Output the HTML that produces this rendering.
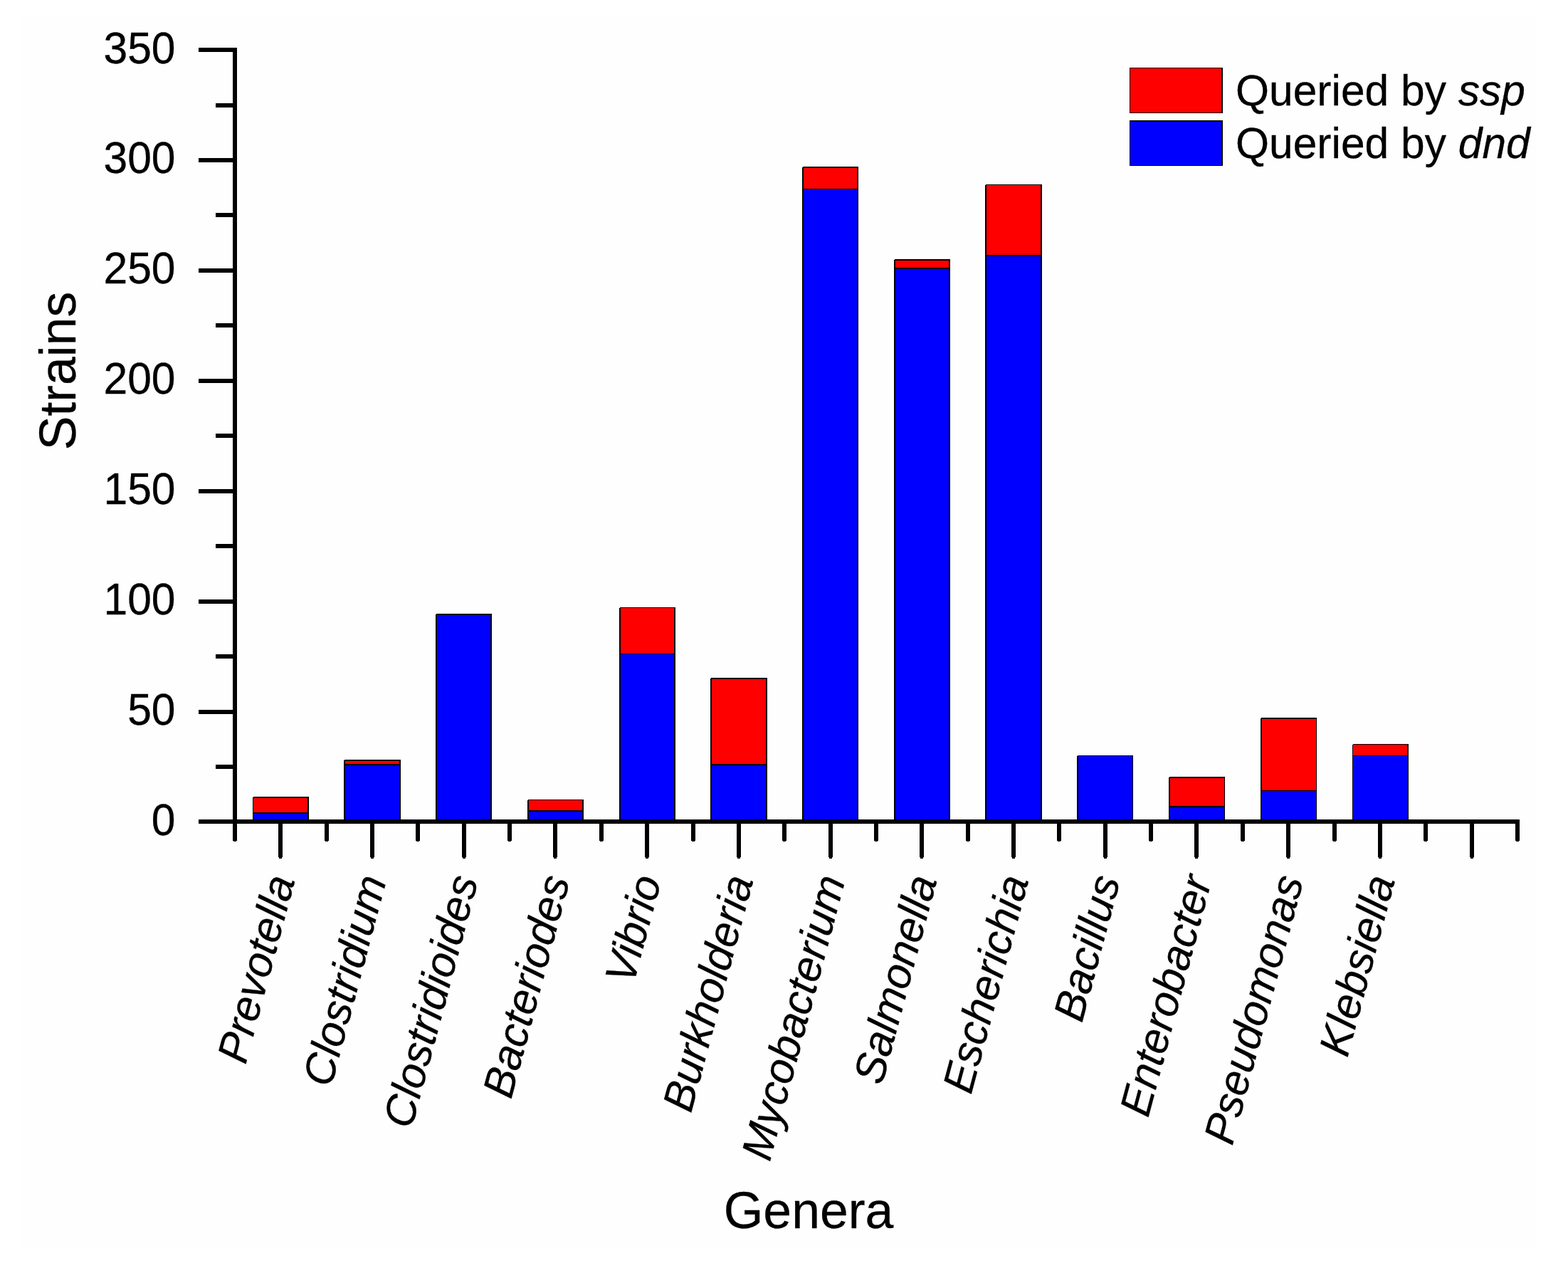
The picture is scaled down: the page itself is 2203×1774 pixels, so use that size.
<!DOCTYPE html>
<html lang="en"><head><meta charset="utf-8"><title>Strains per genus queried by ssp and dnd</title>
<style>
html,body{margin:0;padding:0;background:#fff;}
body{width:2203px;height:1774px;overflow:hidden;}
svg{display:block;}
text{font-family:"Liberation Sans",sans-serif;fill:#000;stroke:#000;stroke-width:0.3px;stroke-linejoin:round;}
.tk{font-size:60.5px;}
.xl{font-size:60.6px;font-style:italic;}
.ti{font-size:71.5px;}
.lg{font-size:60.5px;}
.it{font-style:italic;}
.k{fill:#000;}.r{fill:#f00;}.u{fill:#00f;}
</style></head><body>
<svg width="2203" height="1774" viewBox="0 0 2203 1774">
<rect width="2203" height="1774" fill="#fff"/>
<rect x="28" y="24" width="2131" height="1728" fill="#fefefe"/>
<g id="bars">
<g>
<path class="k" d="M356 1119 H434 V1151 H355 V1120 H356 Z"/>
<rect class="r" x="356" y="1121" width="76" height="20"/>
<rect class="u" x="356" y="1143" width="76" height="8"/>
</g>
<g>
<path class="k" d="M484 1067 H563 V1151 H483 V1068 H484 Z"/>
<rect class="r" x="485" y="1069" width="76" height="4"/>
<rect class="u" x="485" y="1075" width="76" height="76"/>
</g>
<g>
<path class="k" d="M613 862 H691 V1151 H612 V863 H613 Z"/>
<rect class="u" x="614" y="864" width="75" height="287"/>
</g>
<g>
<path class="k" d="M742 1123 H820 V1151 H741 V1124 H742 Z"/>
<rect class="r" x="743" y="1124" width="75" height="14"/>
<rect class="u" x="743" y="1140" width="75" height="11"/>
</g>
<g>
<path class="k" d="M871 853 H949 V1151 H870 V854 H871 Z"/>
<rect class="r" x="872" y="854" width="75" height="64"/>
<rect class="u" x="872" y="919" width="75" height="232"/>
</g>
<g>
<path class="k" d="M999 952 H1078 V1151 H998 V953 H999 Z"/>
<rect class="r" x="1000" y="954" width="76" height="119"/>
<rect class="u" x="1000" y="1075" width="76" height="76"/>
</g>
<g>
<path class="k" d="M1128 234 H1206 V1151 H1127 V235 H1128 Z"/>
<rect class="r" x="1129" y="236" width="75" height="29"/>
<rect class="u" x="1129" y="266" width="75" height="885"/>
</g>
<g>
<path class="k" d="M1257 364 H1335 V1151 H1256 V365 H1257 Z"/>
<rect class="r" x="1258" y="366" width="75" height="10"/>
<rect class="u" x="1258" y="378" width="75" height="773"/>
</g>
<g>
<path class="k" d="M1385 259 H1464 V1151 H1384 V260 H1385 Z"/>
<rect class="r" x="1386" y="260" width="76" height="98"/>
<rect class="u" x="1386" y="360" width="76" height="791"/>
</g>
<g>
<path class="k" d="M1514 1061 H1592 V1151 H1513 V1062 H1514 Z"/>
<rect class="u" x="1515" y="1062" width="76" height="89"/>
</g>
<g>
<path class="k" d="M1643 1091 H1721 V1151 H1642 V1092 H1643 Z"/>
<rect class="r" x="1644" y="1093" width="76" height="39"/>
<rect class="u" x="1644" y="1134" width="76" height="17"/>
</g>
<g>
<path class="k" d="M1772 1008 H1850 V1151 H1771 V1009 H1772 Z"/>
<rect class="r" x="1773" y="1010" width="76" height="100"/>
<rect class="u" x="1773" y="1111" width="76" height="40"/>
</g>
<g>
<path class="k" d="M1901 1045 H1979 V1151 H1900 V1046 H1901 Z"/>
<rect class="r" x="1901" y="1046" width="76" height="15"/>
<rect class="u" x="1901" y="1062" width="76" height="89"/>
</g>
</g>
<g id="axes" class="k">
<rect class="k" x="279" y="1151" width="1856" height="6"/>
<rect class="k" x="327" y="67" width="6" height="1090"/>
<path d="M279 997 H327 V1003 H279 Z M279 842 H327 V848 H279 Z M279 687 H327 V693 H279 Z M279 532 H327 V538 H279 Z M279 377 H327 V383 H279 Z M279 222 H327 V228 H279 Z M279 67 H327 V73 H279 Z M303 1074 H327 V1080 H303 Z M303 919 H327 V925 H303 Z M303 764 H327 V770 H303 Z M303 609 H327 V615 H303 Z M303 454 H327 V460 H303 Z M303 299 H327 V305 H303 Z M303 145 H327 V151 H303 Z"/>
<path d="M327 1157 H333 V1181 H332 V1182 H328 V1181 H327 Z M391 1157 H397 V1204 H396 V1206 H392 V1204 H391 Z M456 1157 H462 V1181 H461 V1182 H457 V1181 H456 Z M520 1157 H526 V1204 H525 V1206 H521 V1204 H520 Z M584 1157 H590 V1181 H589 V1182 H585 V1181 H584 Z M649 1157 H655 V1204 H654 V1206 H650 V1204 H649 Z M713 1157 H719 V1181 H718 V1182 H714 V1181 H713 Z M777 1157 H783 V1204 H782 V1206 H778 V1204 H777 Z M842 1157 H848 V1181 H847 V1182 H843 V1181 H842 Z M906 1157 H912 V1204 H911 V1206 H907 V1204 H906 Z M971 1157 H977 V1181 H976 V1182 H972 V1181 H971 Z M1035 1157 H1041 V1204 H1040 V1206 H1036 V1204 H1035 Z M1099 1157 H1105 V1181 H1104 V1182 H1100 V1181 H1099 Z M1164 1157 H1170 V1204 H1169 V1206 H1165 V1204 H1164 Z M1228 1157 H1234 V1181 H1233 V1182 H1229 V1181 H1228 Z M1292 1157 H1298 V1204 H1297 V1206 H1293 V1204 H1292 Z M1357 1157 H1363 V1181 H1362 V1182 H1358 V1181 H1357 Z M1421 1157 H1427 V1204 H1426 V1206 H1422 V1204 H1421 Z M1485 1157 H1491 V1181 H1490 V1182 H1486 V1181 H1485 Z M1550 1157 H1556 V1204 H1555 V1206 H1551 V1204 H1550 Z M1614 1157 H1620 V1181 H1619 V1182 H1615 V1181 H1614 Z M1678 1157 H1684 V1204 H1683 V1206 H1679 V1204 H1678 Z M1743 1157 H1749 V1181 H1748 V1182 H1744 V1181 H1743 Z M1807 1157 H1813 V1204 H1812 V1206 H1808 V1204 H1807 Z M1872 1157 H1878 V1181 H1877 V1182 H1873 V1181 H1872 Z M1936 1157 H1942 V1204 H1941 V1206 H1937 V1204 H1936 Z M2000 1157 H2006 V1181 H2005 V1182 H2001 V1181 H2000 Z M2065 1157 H2071 V1204 H2070 V1206 H2066 V1204 H2065 Z M2129 1157 H2135 V1181 H2134 V1182 H2130 V1181 H2129 Z"/>
</g>
<g class="tk" text-anchor="end">
<text transform="translate(246.5 1173.1) scale(1 1.04)">0</text>
<text transform="translate(246.5 1018.4) scale(1 1.04)">50</text>
<text transform="translate(246.5 863.1) scale(1 1.04)">100</text>
<text transform="translate(246.5 707.9) scale(1 1.04)">150</text>
<text transform="translate(246.5 552.6) scale(1 1.04)">200</text>
<text transform="translate(246.5 398) scale(1 1.04)">250</text>
<text transform="translate(246.5 243.4) scale(1 1.04)">300</text>
<text transform="translate(246.5 88.8) scale(1 1.04)">350</text>
</g>
<g class="xl" text-anchor="end">
<text transform="translate(414.66 1236) rotate(-75)">Prevotella</text>
<text transform="translate(543.37 1236) rotate(-75)">Clostridium</text>
<text transform="translate(672.08 1236) rotate(-75)">Clostridioides</text>
<text transform="translate(800.8 1236) rotate(-75)">Bacteriodes</text>
<text transform="translate(929.51 1236) rotate(-75)">Vibrio</text>
<text transform="translate(1058.73 1236) rotate(-75)">Burkholderia</text>
<text transform="translate(1187.94 1236) rotate(-75)">Mycobacterium</text>
<text transform="translate(1316.65 1236) rotate(-75)">Salmonella</text>
<text transform="translate(1445.37 1236) rotate(-75)">Escherichia</text>
<text transform="translate(1574.08 1236) rotate(-75)">Bacillus</text>
<text transform="translate(1702.8 1236) rotate(-75)">Enterobacter</text>
<text transform="translate(1831.51 1236) rotate(-75)">Pseudomonas</text>
<text transform="translate(1960.22 1236) rotate(-75)">Klebsiella</text>
</g>
<text class="ti" text-anchor="middle" transform="translate(106.3 521) rotate(-90)">Strains</text>
<text class="ti" text-anchor="middle" x="1136" y="1725">Genera</text>
<g id="legend">
<rect class="k" x="1587" y="95" width="131" height="64"/>
<rect class="r" x="1588" y="96" width="128" height="62"/>
<rect class="k" x="1587" y="169" width="131" height="64"/>
<rect class="u" x="1588" y="171" width="128" height="61"/>
<text class="lg" x="1736" y="148.2">Queried by <tspan class="it">ssp</tspan></text>
<text class="lg" x="1736" y="222.4">Queried by <tspan class="it">dnd</tspan></text>
</g>
</svg></body></html>
